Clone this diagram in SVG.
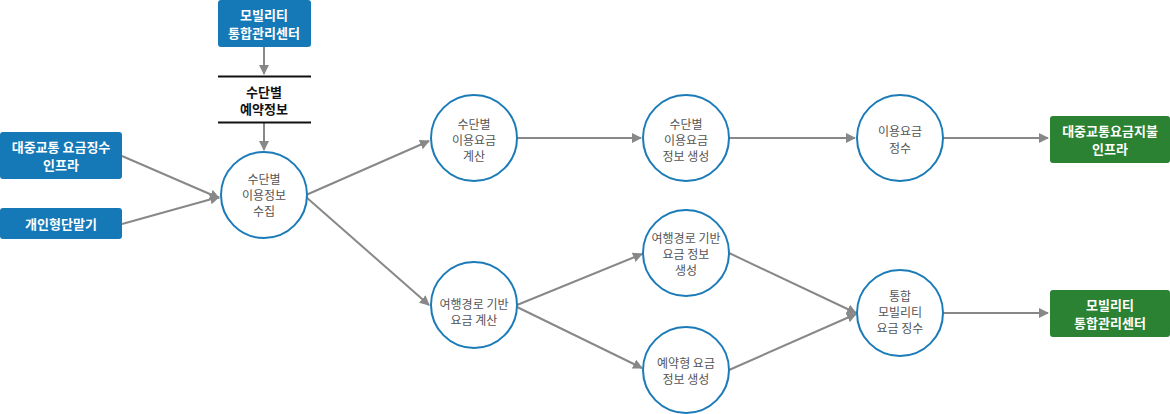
<svg xmlns="http://www.w3.org/2000/svg" width="1170" height="414" viewBox="0 0 1170 414">
<style>
.b{fill:#1579b7}.g{fill:#2a8232}
.bt{font-family:"Noto Sans CJK KR","Noto Sans",sans-serif;font-size:13px;font-weight:bold;fill:#fff;text-anchor:middle}
.c{fill:#fff;stroke:#1a7bb8;stroke-width:2}
.ct{font-family:"Noto Sans CJK KR","Noto Sans",sans-serif;font-size:12px;fill:#555;text-anchor:middle}
.e{stroke:#888;stroke-width:2;fill:none;marker-end:url(#a)}
</style>
<defs><marker id="a" viewBox="0 0 10 10" refX="9" refY="5" markerWidth="5" markerHeight="5" orient="auto" markerUnits="strokeWidth"><path d="M0,0L10,5L0,10z" fill="#888"/></marker></defs>
<g id="connectors">
<line class="e" x1="264" y1="47" x2="264" y2="74"/>
<line class="e" x1="264" y1="123" x2="264" y2="150"/>
<line class="e" x1="122" y1="156" x2="219" y2="198"/>
<line class="e" x1="122" y1="224" x2="219" y2="197"/>
<line class="e" x1="306" y1="195" x2="429" y2="141"/>
<line class="e" x1="306" y1="197" x2="429" y2="305"/>
<line class="e" x1="517" y1="138" x2="641" y2="138"/>
<line class="e" x1="729" y1="138" x2="855" y2="138"/>
<line class="e" x1="943" y1="138" x2="1048" y2="138"/>
<line class="e" x1="517" y1="305" x2="642" y2="254"/>
<line class="e" x1="517" y1="307" x2="642" y2="368"/>
<line class="e" x1="729" y1="253" x2="856" y2="313"/>
<line class="e" x1="729" y1="370" x2="856" y2="314"/>
<line class="e" x1="943" y1="313" x2="1048" y2="313"/>
</g>
<g id="n-top"><rect class="b" x="218" y="0" width="93" height="47" rx="3"/><text class="bt" x="264" y="20">모빌리티</text><text class="bt" x="264" y="38">통합관리센터</text></g>
<g id="n-res"><line x1="218" y1="76.5" x2="311" y2="76.5" stroke="#111" stroke-width="2"/><line x1="218" y1="122.5" x2="311" y2="122.5" stroke="#111" stroke-width="2"/><text class="bt" style="fill:#111" x="264" y="97">수단별</text><text class="bt" style="fill:#111" x="264" y="114">예약정보</text></g>
<g id="n-pub"><rect class="b" x="0" y="132" width="122" height="47" rx="3"/><text class="bt" x="61" y="152">대중교통 요금징수</text><text class="bt" x="61" y="170">인프라</text></g>
<g id="n-dev"><rect class="b" x="0" y="208" width="122" height="31" rx="3"/><text class="bt" x="61" y="229">개인형단말기</text></g>
<g id="c1"><circle class="c" cx="264" cy="195" r="43"/><text class="ct" x="264" y="184">수단별</text><text class="ct" x="264" y="200">이용정보</text><text class="ct" x="264" y="216">수집</text></g>
<g id="c2"><circle class="c" cx="474" cy="138" r="43"/><text class="ct" x="474" y="129">수단별</text><text class="ct" x="474" y="145">이용요금</text><text class="ct" x="474" y="161">계산</text></g>
<g id="c3"><circle class="c" cx="686" cy="138" r="43"/><text class="ct" x="686" y="129">수단별</text><text class="ct" x="686" y="145">이용요금</text><text class="ct" x="686" y="161">정보 생성</text></g>
<g id="c4"><circle class="c" cx="900" cy="138" r="43"/><text class="ct" x="900" y="136">이용요금</text><text class="ct" x="900" y="153">정수</text></g>
<g id="c5"><circle class="c" cx="474" cy="305" r="43"/><text class="ct" x="474" y="309">여행경로 기반</text><text class="ct" x="474" y="325">요금 계산</text></g>
<g id="c6"><circle class="c" cx="686" cy="253" r="43"/><text class="ct" x="686" y="243">여행경로 기반</text><text class="ct" x="686" y="259">요금 정보</text><text class="ct" x="686" y="275">생성</text></g>
<g id="c7"><circle class="c" cx="686" cy="370" r="43"/><text class="ct" x="686" y="368">예약형 요금</text><text class="ct" x="686" y="384">정보 생성</text></g>
<g id="c8"><circle class="c" cx="900" cy="313" r="43"/><text class="ct" x="900" y="301">통합</text><text class="ct" x="900" y="317">모빌리티</text><text class="ct" x="900" y="333">요금 징수</text></g>
<g id="n-g1"><rect class="g" x="1050" y="116" width="120" height="47" rx="3"/><text class="bt" x="1110" y="136">대중교통요금지불</text><text class="bt" x="1110" y="154">인프라</text></g>
<g id="n-g2"><rect class="g" x="1050" y="290" width="120" height="47" rx="3"/><text class="bt" x="1110" y="310">모빌리티</text><text class="bt" x="1110" y="328">통합관리센터</text></g>
</svg>
